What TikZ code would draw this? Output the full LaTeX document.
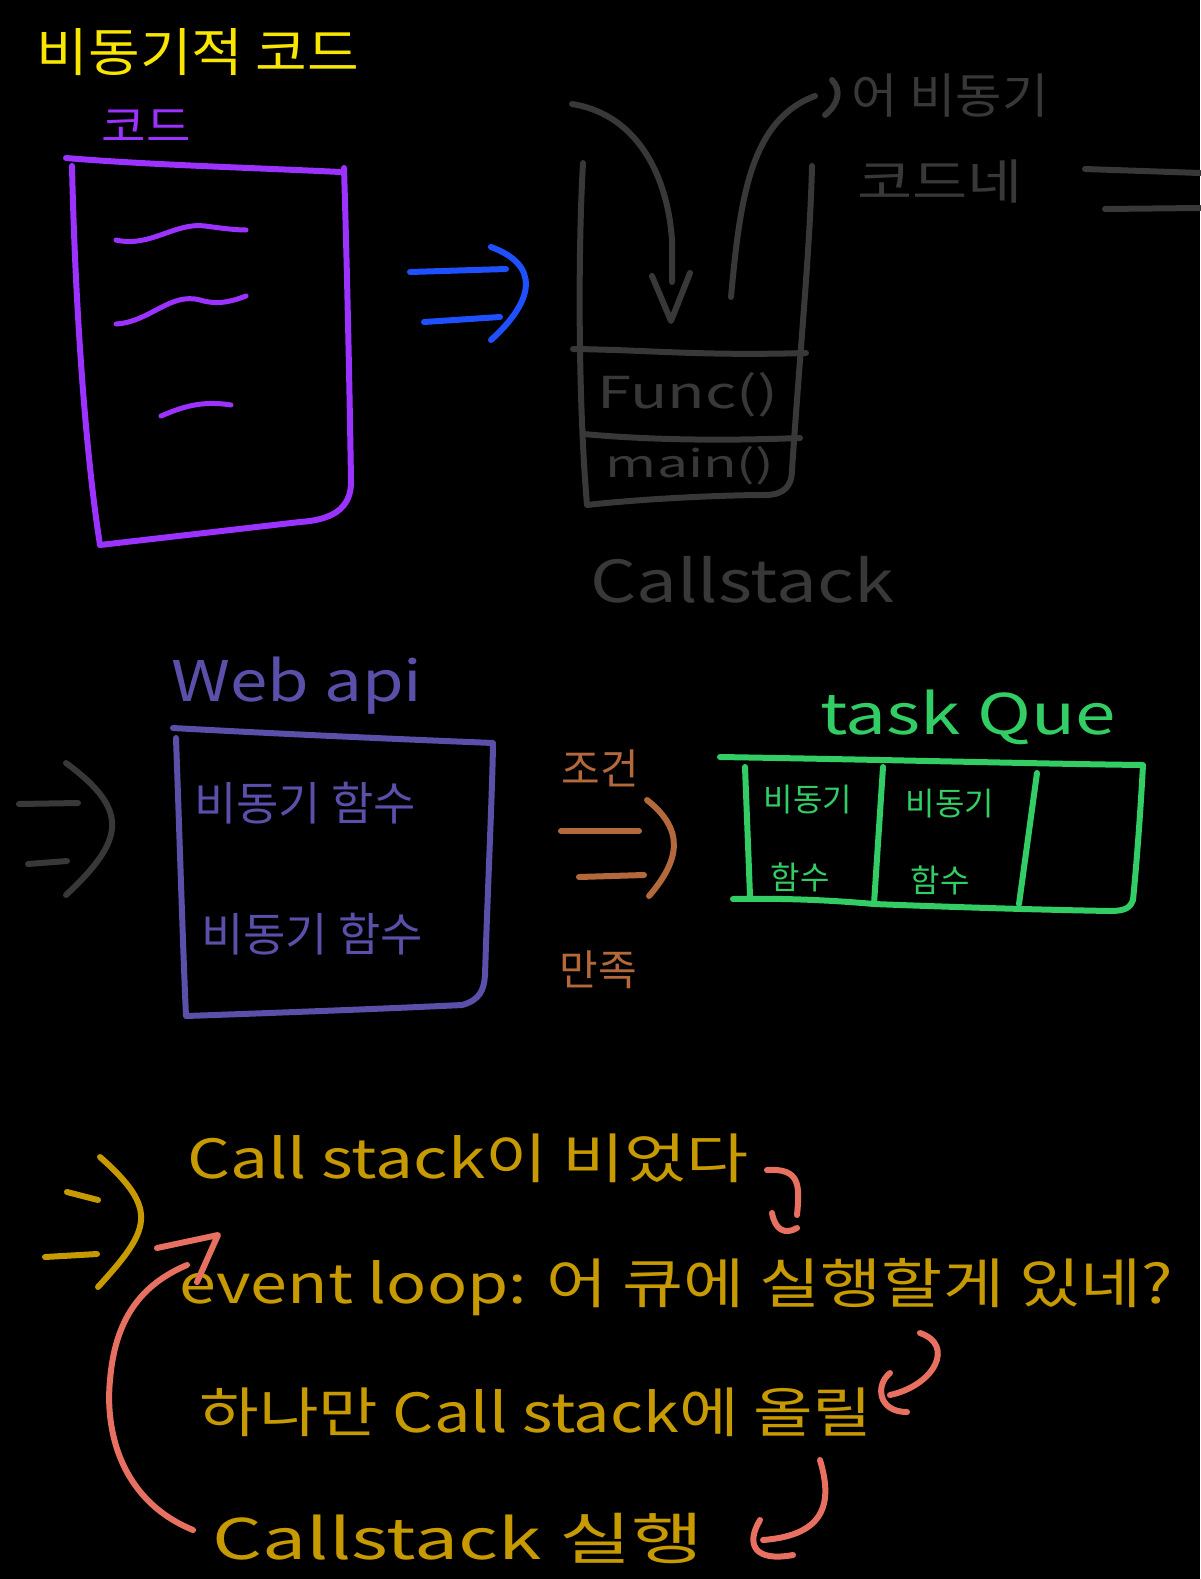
\documentclass[tikz,border=0pt]{standalone}
\usepackage{graphicx}
\usepackage{fontspec}
\setmainfont{Noto Sans CJK KR}
\usetikzlibrary{calc}
\definecolor{cyellow}{RGB}{248,230,0}
\definecolor{cpurple}{RGB}{155,50,255}
\definecolor{cgray}{RGB}{56,56,56}
\definecolor{cblue}{RGB}{30,80,255}
\definecolor{cindigo}{RGB}{90,80,170}
\definecolor{cbrown}{RGB}{180,105,60}
\definecolor{cgreen}{RGB}{50,205,100}
\definecolor{cgold}{RGB}{198,154,0}
\definecolor{csalmon}{RGB}{232,112,96}
\newcommand{\fs}[1]{\fontsize{#1}{#1}\selectfont}
\newcommand{\hs}[2]{\scalebox{#1}[1]{#2}}
\tikzset{
  pen/.style={line width=6pt, line cap=round, line join=round},
  thinpen/.style={line width=5pt, line cap=round, line join=round},
  lbl/.style={inner sep=0pt, anchor=center},
}
\begin{document}
\begin{tikzpicture}[x=1pt,y=-1pt]
\fill[black] (0,0) rectangle (1200,1579);
\useasboundingbox (0,0) rectangle (1200,1579);

% ---------- title
\node[lbl, text=cyellow] (title) at (198,52) {\fs{52}\hs{1.08}{비동기적 코드}};
\node[lbl, text=cpurple] (code) at (146,126) {\fs{44}\hs{1.1}{코드}};

% ---------- code box
\draw[pen, cpurple] (66,158) .. controls (150,165) and (260,168) .. (340,172);
\draw[pen, cpurple] (72,166) .. controls (75,300) and (85,450) .. (100,545);
\draw[pen, cpurple] (344,168) .. controls (348,300) and (350,420) .. (351,480)
   .. controls (352,510) and (330,520) .. (300,522) -- (100,545);
\draw[thinpen, cpurple] (116,240) .. controls (150,248) and (175,222) .. (205,226) .. controls (220,228) and (235,230) .. (246,230);
\draw[thinpen, cpurple] (116,324) .. controls (150,322) and (170,292) .. (200,300) .. controls (220,306) and (235,300) .. (246,296);
\draw[thinpen, cpurple] (161,416) .. controls (180,408) and (200,400) .. (231,405);

% ---------- blue arrow
\draw[pen, cblue] (410,272) -- (506,269);
\draw[pen, cblue] (424,322) -- (500,317);
\draw[pen, cblue] (491,247) .. controls (540,265) and (535,300) .. (491,340);

% ---------- call stack
\draw[pen, cgray] (583,163) .. controls (578,250) and (578,400) .. (587,505)
   .. controls (650,498) and (730,495) .. (765,495) .. controls (785,495) and (792,485) .. (792,470)
   .. controls (800,350) and (810,250) .. (812,166);
\draw[pen, cgray] (573,349) .. controls (650,350) and (700,356) .. (806,353);
\draw[pen, cgray] (583,434) .. controls (650,440) and (720,441) .. (800,438);
\node[lbl, text=cgray] (func) at (688,395) {\fs{44}\hs{1.4}{Func()}};
\node[lbl, text=cgray] (mainf) at (690,466) {\fs{38}\hs{1.45}{main()}};
\node[lbl, text=cgray] (cslabel) at (742,580) {\fs{58}\hs{1.25}{Callstack}};

% in/out arrows
\draw[pen, cgray] (572,104) .. controls (640,115) and (668,180) .. (672,240) -- (672,282);
\draw[pen, cgray] (652,276) -- (671,321) -- (690,273);
\draw[pen, cgray] (731,297) .. controls (740,200) and (750,120) .. (815,96);
\draw[pen, cgray] (832,80) .. controls (842,90) and (838,105) .. (825,115);
\node[lbl, text=cgray] (eo1) at (950,96) {\fs{48}\hs{1.05}{어 비동기}};
\node[lbl, text=cgray] (eo2) at (940,182) {\fs{48}\hs{1.25}{코드네}};
\draw[pen, cgray] (1085,169) -- (1200,173);
\draw[pen, cgray] (1105,209) -- (1200,208);

% ---------- continuation arrow
\draw[pen, cgray] (19,804) -- (78,803);
\draw[pen, cgray] (28,864) -- (67,861);
\draw[pen, cgray] (66,763) .. controls (130,810) and (125,840) .. (66,895);

% ---------- web api
\node[lbl, text=cindigo] (webapi) at (297,686) {\fs{56}\hs{1.2}{Web api}};
\draw[pen, cindigo] (173,728) .. controls (300,735) and (420,740) .. (493,743);
\draw[pen, cindigo] (176,738) .. controls (180,850) and (183,950) .. (186,1016)
   .. controls (300,1012) and (400,1008) .. (462,1005)
   .. controls (480,1000) and (484,990) .. (485,975)
   .. controls (488,880) and (492,800) .. (493,745);
\node[lbl, text=cindigo] (wa1) at (305,803) {\fs{46}비동기 함수};
\node[lbl, text=cindigo] (wa2) at (312,934) {\fs{46}비동기 함수};

% ---------- condition arrow
\node[lbl, text=cbrown] (cond1) at (600,768) {\fs{42}조건};
\node[lbl, text=cbrown] (cond2) at (598,970) {\fs{42}만족};
\draw[pen, cbrown] (561,831) -- (639,831);
\draw[pen, cbrown] (579,877) -- (644,875);
\draw[pen, cbrown] (647,800) .. controls (685,830) and (680,860) .. (649,896);

% ---------- task queue
\node[lbl, text=cgreen] (tq) at (968,717) {\fs{56}\hs{1.3}{task Que}};
\draw[pen, cgreen] (720,757) .. controls (900,760) and (1050,764) .. (1143,765)
   .. controls (1140,820) and (1136,870) .. (1133,900) .. controls (1130,908) and (1125,911) .. (1110,911)
   .. controls (1000,909) and (900,905) .. (874,904) .. controls (830,900) and (780,898) .. (733,899);
\draw[pen, cgreen] (745,767) -- (750,896);
\draw[pen, cgreen] (883,767) -- (874,904);
\draw[pen, cgreen] (1037,773) -- (1019,904);
\node[lbl, text=cgreen] (c1a) at (808,800) {\fs{32}비동기};
\node[lbl, text=cgreen] (c1b) at (800,877) {\fs{32}함수};
\node[lbl, text=cgreen] (c2a) at (950,804) {\fs{32}비동기};
\node[lbl, text=cgreen] (c2b) at (940,880) {\fs{32}함수};

% ---------- event loop section
\draw[pen, cgold] (67,1192) -- (98,1200);
\draw[pen, cgold] (45,1257) -- (97,1254);
\draw[pen, cgold] (100,1157) .. controls (160,1210) and (150,1230) .. (98,1287);
\node[lbl, text=cgold] (s1) at (468,1158) {\fs{54}\hs{1.25}{Call stack이 비었다}};
\node[lbl, text=cgold] (s2) at (676,1287) {\fs{54}\hs{1.23}{event loop: 어 큐에 실행할게 있네?}};
\node[lbl, text=cgold] (s3) at (536,1412) {\fs{54}\hs{1.2}{하나만 Call stack에 올릴}};
\node[lbl, text=cgold] (s4) at (458,1538) {\fs{56}\hs{1.4}{Callstack 실행}};

% salmon arrows
\draw[pen, csalmon] (767,1170) .. controls (800,1168) and (800,1185) .. (797,1215);
\draw[pen, csalmon] (772,1213) .. controls (775,1230) and (785,1235) .. (797,1228);
\draw[pen, csalmon] (920,1333) .. controls (955,1345) and (935,1385) .. (890,1395);
\draw[pen, csalmon] (890,1373) .. controls (875,1385) and (878,1412) .. (907,1412);
\draw[pen, csalmon] (820,1460) .. controls (832,1500) and (828,1535) .. (763,1540);
\draw[pen, csalmon] (760,1520) .. controls (745,1545) and (755,1562) .. (793,1555);
\draw[pen, csalmon] (193,1530) .. controls (120,1500) and (105,1430) .. (110,1380)
   .. controls (115,1320) and (140,1285) .. (187,1265);
\draw[pen, csalmon] (157,1248) -- (218,1235) -- (197,1282);
\end{tikzpicture}
\end{document}
